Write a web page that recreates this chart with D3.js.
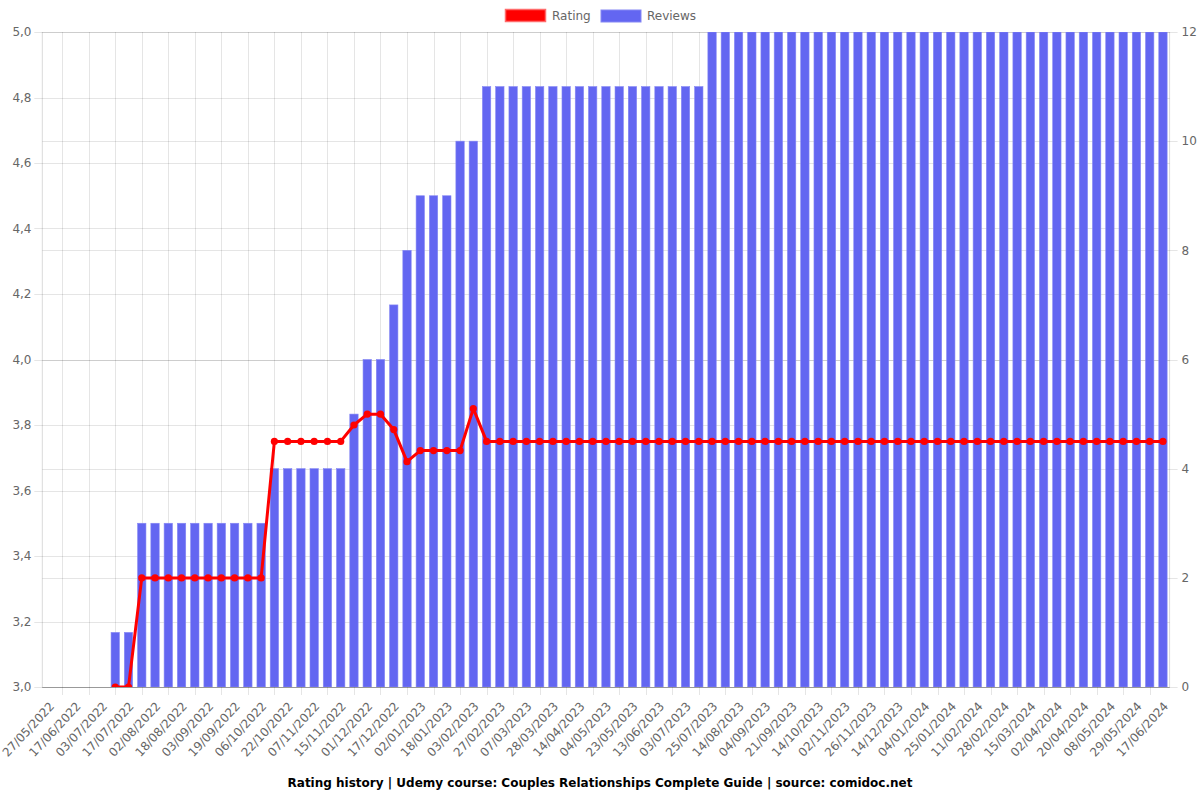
<!DOCTYPE html>
<html>
<head>
<meta charset="utf-8">
<script src="https://cdn.jsdelivr.net/npm/d3@7"></script>
<style>
  html, body { margin: 0; padding: 0; background: #fff; }
  svg { display: block; font-family: "DejaVu Sans", sans-serif; }
</style>
</head>
<body>
<svg id="chart" width="1200" height="800"></svg>
<script>
// Categories (odd entries are hidden by label skipping; their dates are estimates)
const categories = [
  "27/05/2022","07/06/2022","17/06/2022","25/06/2022","03/07/2022","10/07/2022","17/07/2022","25/07/2022",
  "02/08/2022","10/08/2022","18/08/2022","26/08/2022","03/09/2022","11/09/2022","19/09/2022","28/09/2022",
  "06/10/2022","14/10/2022","22/10/2022","30/10/2022","07/11/2022","11/11/2022","15/11/2022","23/11/2022",
  "01/12/2022","09/12/2022","17/12/2022","25/12/2022","02/01/2023","10/01/2023","18/01/2023","26/01/2023",
  "03/02/2023","15/02/2023","27/02/2023","03/03/2023","07/03/2023","18/03/2023","28/03/2023","06/04/2023",
  "14/04/2023","24/04/2023","04/05/2023","13/05/2023","23/05/2023","02/06/2023","13/06/2023","23/06/2023",
  "03/07/2023","14/07/2023","25/07/2023","04/08/2023","14/08/2023","24/08/2023","04/09/2023","12/09/2023",
  "21/09/2023","03/10/2023","14/10/2023","24/10/2023","02/11/2023","14/11/2023","26/11/2023","05/12/2023",
  "14/12/2023","25/12/2023","04/01/2024","14/01/2024","25/01/2024","03/02/2024","11/02/2024","19/02/2024",
  "28/02/2024","07/03/2024","15/03/2024","24/03/2024","02/04/2024","11/04/2024","20/04/2024","29/04/2024",
  "08/05/2024","19/05/2024","29/05/2024","08/06/2024","17/06/2024"
];

const ratings = [
  null,null,null,null,null,3.0,3.0,3.333,
  3.333,3.333,3.333,3.333,3.333,3.333,3.333,3.333,
  3.333,3.75,3.75,3.75,3.75,3.75,3.75,3.8,
  3.833,3.833,3.786,3.688,3.722,3.722,3.722,3.722,
  3.85,3.75,3.75,3.75,3.75,3.75,3.75,3.75,
  3.75,3.75,3.75,3.75,3.75,3.75,3.75,3.75,
  3.75,3.75,3.75,3.75,3.75,3.75,3.75,3.75,
  3.75,3.75,3.75,3.75,3.75,3.75,3.75,3.75,
  3.75,3.75,3.75,3.75,3.75,3.75,3.75,3.75,
  3.75,3.75,3.75,3.75,3.75,3.75,3.75,3.75,
  3.75,3.75,3.75,3.75,3.75
];

const reviews = [
  0,0,0,0,0,1,1,3,
  3,3,3,3,3,3,3,3,
  3,4,4,4,4,4,4,5,
  6,6,7,8,9,9,9,10,
  10,11,11,11,11,11,11,11,
  11,11,11,11,11,11,11,11,
  11,11,12,12,12,12,12,12,
  12,12,12,12,12,12,12,12,
  12,12,12,12,12,12,12,12,
  12,12,12,12,12,12,12,12,
  12,12,12,12,12
];

const ratingTicks = [3.0,3.2,3.4,3.6,3.8,4.0,4.2,4.4,4.6,4.8,5.0];
const reviewTicks = [0,2,4,6,8,10,12];

const seriesNames = ["Rating","Reviews"];
const titleText = "Rating history | Udemy course: Couples Relationships Complete Guide | source: comidoc.net";

// ---- layout
const pLeft = 42.3, pRight = 1169.6, pTop = 32, pBottom = 687;
const svg = d3.select("#chart");
const tickColor = "#666";
const gridColor = "rgba(0,0,0,0.1)";

const x = d3.scaleBand().domain(categories).range([pLeft, pRight]).padding(0);
const yL = d3.scaleLinear().domain([3, 5]).range([pBottom, pTop]);
const yR = d3.scaleLinear().domain([0, 12]).range([pBottom, pTop]);
const bw = x.bandwidth();
const cx = d => x(d) + bw / 2;

const fmtComma = d3.format(".1f");

// clip
svg.append("defs").append("clipPath").attr("id", "area")
  .append("rect").attr("x", pLeft).attr("y", pTop).attr("width", pRight - pLeft).attr("height", pBottom - pTop);

// ---- horizontal grid (left axis)
svg.append("g").selectAll("line").data(ratingTicks).join("line")
  .attr("x1", pLeft - 8).attr("x2", pRight)
  .attr("y1", d => Math.round(yL(d)) + 0.5).attr("y2", d => Math.round(yL(d)) + 0.5)
  .attr("stroke", gridColor).attr("stroke-width", 1);
// right axis grid
svg.append("g").selectAll("line").data(reviewTicks).join("line")
  .attr("x1", pLeft).attr("x2", pRight + 8)
  .attr("y1", d => Math.round(yR(d)) + 0.5).attr("y2", d => Math.round(yR(d)) + 0.5)
  .attr("stroke", gridColor).attr("stroke-width", 1);

// ---- vertical grid: between shown ticks (shown ticks are every other category)
const shownIdx = categories.map((c, i) => i).filter(i => i % 2 === 0);
const vLines = [];
for (let k = 1; k < shownIdx.length; k++) {
  vLines.push((cx(categories[shownIdx[k]]) + cx(categories[shownIdx[k - 1]])) / 2);
}
svg.append("g").selectAll("line").data(vLines).join("line")
  .attr("x1", d => Math.round(d) + 0.5).attr("x2", d => Math.round(d) + 0.5)
  .attr("y1", pTop).attr("y2", pBottom + 8)
  .attr("stroke", gridColor).attr("stroke-width", 1);

// axis borders
svg.append("line").attr("x1", pLeft).attr("x2", pLeft).attr("y1", pTop).attr("y2", pBottom + 0.5)
  .attr("stroke", "rgba(0,0,0,0.15)");
svg.append("line").attr("x1", pRight).attr("x2", pRight).attr("y1", pTop).attr("y2", pBottom + 0.5)
  .attr("stroke", "rgba(0,0,0,0.15)");
svg.append("line").attr("x1", pLeft).attr("x2", pRight).attr("y1", pBottom + 0.5).attr("y2", pBottom + 0.5)
  .attr("stroke", "rgba(0,0,0,0.25)");

// ---- bars
const barW = bw * 0.63;
svg.append("g").attr("clip-path", "url(#area)")
  .selectAll("rect").data(categories.map((c, i) => ({c, v: reviews[i]})).filter(d => d.v > 0)).join("rect")
  .attr("x", d => cx(d.c) - barW / 2)
  .attr("width", barW)
  .attr("y", d => yR(d.v))
  .attr("height", d => yR(0) - yR(d.v))
  .attr("fill", "#6366f1")
  .attr("stroke", "#8587f4")
  .attr("stroke-width", 0.6);

// ---- rating line
const pts = categories.map((c, i) => ({c, v: ratings[i]})).filter(d => d.v !== null);
const line = d3.line().x(d => cx(d.c)).y(d => yL(d.v));
const gLine = svg.append("g").attr("clip-path", "url(#area)");
gLine.append("path").datum(pts).attr("d", line)
  .attr("fill", "none").attr("stroke", "#ff0000").attr("stroke-width", 3).attr("stroke-linejoin", "round");
gLine.selectAll("circle").data(pts).join("circle")
  .attr("cx", d => cx(d.c)).attr("cy", d => yL(d.v)).attr("r", 3.6)
  .attr("fill", "#ff0000");

// ---- left ticks
svg.append("g").selectAll("text").data(ratingTicks).join("text")
  .attr("x", 31.5).attr("y", d => yL(d)).attr("dy", "0.35em")
  .attr("text-anchor", "end").attr("fill", tickColor).attr("font-size", 12)
  .text(d => fmtComma(d).replace(".", ","));
// right ticks
svg.append("g").selectAll("text").data(reviewTicks).join("text")
  .attr("x", 1181.5).attr("y", d => yR(d)).attr("dy", "0.35em")
  .attr("text-anchor", "start").attr("fill", tickColor).attr("font-size", 12)
  .text(d => d);

// x labels (every other category)
svg.append("g").selectAll("text").data(shownIdx.map(i => categories[i])).join("text")
  .attr("transform", d => `translate(${cx(d) + 3},${pBottom + 17}) rotate(-47)`)
  .attr("text-anchor", "end").attr("dy", "0.35em")
  .attr("fill", tickColor).attr("font-size", 12)
  .text(d => d);

// ---- legend
const lg = svg.append("g");
lg.append("rect").attr("x", 505.5).attr("y", 9.5).attr("width", 40).attr("height", 12)
  .attr("fill", "#ff0000").attr("stroke", "#ff6b6b").attr("stroke-width", 1.5);
lg.append("text").attr("x", 552).attr("y", 16).attr("dy", "0.35em")
  .attr("fill", tickColor).attr("font-size", 12).text(seriesNames[0]);
lg.append("rect").attr("x", 601).attr("y", 10).attr("width", 40).attr("height", 12)
  .attr("fill", "#6366f1").attr("stroke", "#8587f4").attr("stroke-width", 1);
lg.append("text").attr("x", 647).attr("y", 16).attr("dy", "0.35em")
  .attr("fill", tickColor).attr("font-size", 12).text(seriesNames[1]);

// ---- title
svg.append("text").attr("x", 600).attr("y", 783).attr("dy", "0.35em")
  .attr("text-anchor", "middle").attr("font-weight", "bold").attr("font-size", 12)
  .attr("fill", "#000").text(titleText);
</script>
</body>
</html>
